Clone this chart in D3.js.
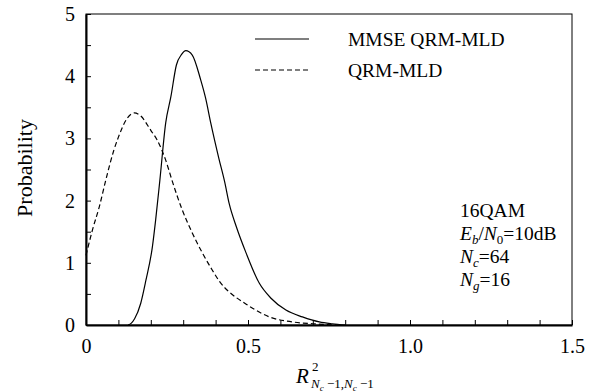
<!DOCTYPE html>
<html>
<head>
<meta charset="utf-8">
<script src="https://cdn.jsdelivr.net/npm/d3@7"></script>
<style>
  body { margin: 0; background: #fff; }
  text { font-family: "Liberation Serif", "Times New Roman", serif; fill: #000; }
</style>
</head>
<body>
<script>
// series: [x, probability]
var mmseX = [0.13, 0.14, 0.15, 0.169, 0.185, 0.205, 0.215, 0.228, 0.246, 0.262, 0.279, 0.295, 0.308, 0.328, 0.354, 0.369, 0.385, 0.41, 0.428, 0.442, 0.464, 0.494, 0.535, 0.571, 0.617, 0.668, 0.72, 0.76, 0.80];
var mmseY = [0, 0.03, 0.1, 0.35, 0.72, 1.26, 1.69, 2.33, 3.25, 3.67, 4.18, 4.35, 4.41, 4.34, 3.94, 3.65, 3.25, 2.68, 2.3, 1.95, 1.58, 1.16, 0.67, 0.43, 0.24, 0.13, 0.05, 0.02, 0];
var qrmX = [0, 0.02, 0.041, 0.062, 0.086, 0.10, 0.128, 0.149, 0.169, 0.2, 0.22, 0.246, 0.267, 0.297, 0.328, 0.359, 0.39, 0.412, 0.44, 0.464, 0.49, 0.514, 0.566, 0.637, 0.70, 0.78];
var qrmY = [1.12, 1.53, 1.9, 2.35, 2.81, 3.02, 3.33, 3.41, 3.36, 3.13, 2.97, 2.65, 2.3, 1.85, 1.48, 1.16, 0.88, 0.70, 0.54, 0.44, 0.35, 0.27, 0.13, 0.05, 0.02, 0];

var seriesNames = ["MMSE QRM-MLD", "QRM-MLD"];
var seriesDash = ["none", "5,3"];

var xTicks = [0, 0.1, 0.2, 0.3, 0.4, 0.5, 0.6, 0.7, 0.8, 0.9, 1.0, 1.1, 1.2, 1.3, 1.4, 1.5];
var xLabels = [0, 0.5, 1.0, 1.5];
var yTicks = [0, 0.5, 1, 1.5, 2, 2.5, 3, 3.5, 4, 4.5, 5];
var yLabels = [0, 1, 2, 3, 4, 5];

var W = 605, H = 392;
var plotL = 86, plotT = 14, plotR = 572, plotB = 325;   // plot box in px

var svg = d3.select("body").append("svg")
  .attr("width", W)
  .attr("height", H);

var x = d3.scaleLinear().domain([0, 1.5]).range([plotL, plotR]);
var y = d3.scaleLinear().domain([0, 5]).range([plotB, plotT]);

// thin frame for top / right side
svg.append("rect")
  .attr("x", plotL).attr("y", plotT)
  .attr("width", plotR - plotL).attr("height", plotB - plotT)
  .attr("fill", "none").attr("stroke", "#000").attr("stroke-width", 1);

var xAxis = d3.axisBottom(x)
  .tickValues(xTicks)
  .tickSize(-5)
  .tickSizeOuter(0)
  .tickPadding(14)
  .tickFormat(function(d) {
    var k = xLabels.find(function(v) { return Math.abs(v - d) < 1e-9; });
    if (k === undefined) return "";
    return k === 0 ? "0" : k.toFixed(1);
  });

var yAxis = d3.axisLeft(y)
  .tickValues(yTicks)
  .tickSize(-5)
  .tickSizeOuter(0)
  .tickPadding(11)
  .tickFormat(function(d) { return yLabels.indexOf(d) >= 0 ? d : ""; });

var gx = svg.append("g").attr("transform", "translate(0," + plotB + ")").call(xAxis);
var gy = svg.append("g").attr("transform", "translate(" + plotL + ",0)").call(yAxis);

[gx, gy].forEach(function(g) {
  g.attr("font-family", null);
  g.select(".domain").attr("stroke", "#000").attr("stroke-width", 2);
  g.selectAll(".tick line").attr("stroke", "#000").attr("stroke-width", 1);
  g.selectAll(".tick text").attr("font-size", 20).attr("fill", "#000");
});

// curves
var line = d3.line()
  .x(function(d) { return x(d[0]); })
  .y(function(d) { return y(d[1]); })
  .curve(d3.curveMonotoneX);

var series = [
  d3.zip(mmseX, mmseY),
  d3.zip(qrmX, qrmY)
];

svg.selectAll(".curve")
  .data(series)
  .enter().append("path")
  .attr("class", "curve")
  .attr("d", line)
  .attr("fill", "none")
  .attr("stroke", "#000")
  .attr("stroke-width", 1.2)
  .attr("stroke-dasharray", function(d, i) { return seriesDash[i]; });

// legend
var leg = svg.selectAll(".leg")
  .data(seriesNames)
  .enter().append("g")
  .attr("class", "leg")
  .attr("transform", function(d, i) { return "translate(0," + (39 + i * 31) + ")"; });

leg.append("line")
  .attr("x1", 255).attr("x2", 309)
  .attr("stroke", "#000").attr("stroke-width", 1.2)
  .attr("stroke-dasharray", function(d, i) { return seriesDash[i]; });

leg.append("text")
  .attr("x", 348).attr("y", 7)
  .attr("font-size", 19.5)
  .text(function(d) { return d; });

// annotation block
svg.append("text").attr("font-size", 19.5).attr("x", 460).attr("y", 217).text("16QAM");

var l2 = svg.append("text").attr("font-size", 19.5).attr("x", 460).attr("y", 240);
l2.append("tspan").attr("font-style", "italic").text("E");
l2.append("tspan").attr("font-style", "italic").attr("font-size", 13).attr("dy", 4).text("b");
l2.append("tspan").attr("dy", -4).text("/");
l2.append("tspan").attr("font-style", "italic").text("N");
l2.append("tspan").attr("font-size", 13).attr("dy", 4).text("0");
l2.append("tspan").attr("dy", -4).text("=10dB");

[["c", "=64", 263], ["g", "=16", 286]].forEach(function(r) {
  var t = svg.append("text").attr("font-size", 19.5).attr("x", 460).attr("y", r[2]);
  t.append("tspan").attr("font-style", "italic").text("N");
  t.append("tspan").attr("font-style", "italic").attr("font-size", 13).attr("dy", 4).text(r[0]);
  t.append("tspan").attr("dy", -4).text(r[1]);
});

// axis titles
svg.append("text")
  .attr("transform", "translate(32,168) rotate(-90)")
  .attr("text-anchor", "middle")
  .attr("font-size", 22)
  .text("Probability");

var xt = svg.append("g").attr("font-style", "italic");
xt.append("text").attr("x", 296).attr("y", 383).attr("font-size", 21).text("R");
xt.append("text").attr("x", 312).attr("y", 371).attr("font-size", 13).attr("font-style", "normal").text("2");
var sub = xt.append("text").attr("x", 311).attr("y", 388).attr("font-size", 13);
sub.append("tspan").text("N");
sub.append("tspan").attr("font-size", 9).attr("dy", 3).text("c");
sub.append("tspan").attr("font-style", "normal").attr("dy", -3).text(" \u22121,");
sub.append("tspan").text("N");
sub.append("tspan").attr("font-size", 9).attr("dy", 3).text("c");
sub.append("tspan").attr("font-style", "normal").attr("dy", -3).text(" \u22121");
</script>
</body>
</html>
